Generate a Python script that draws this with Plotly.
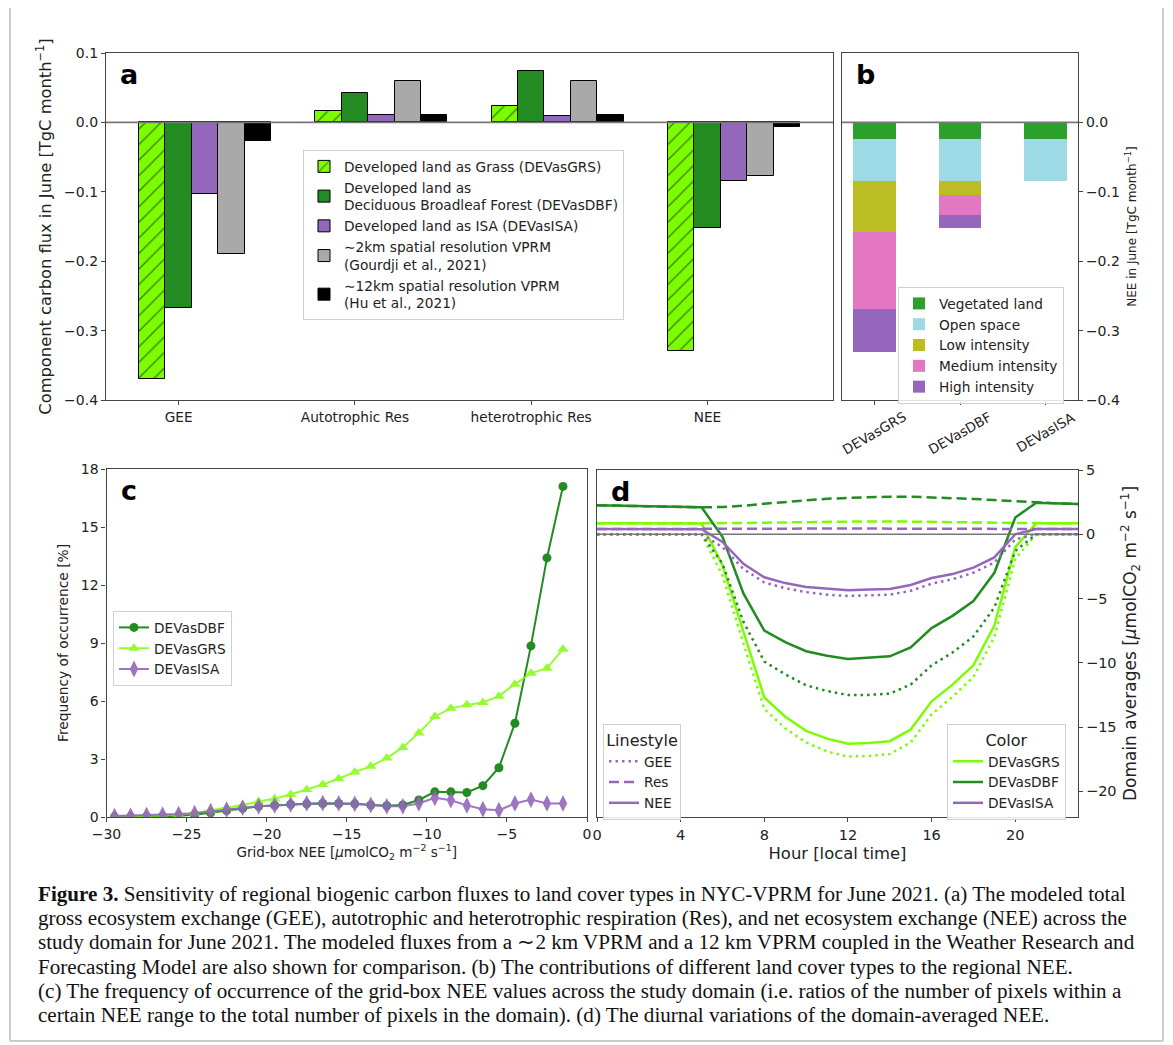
import plotly.graph_objects as go

W, H = 1173, 1045
FONT = "DejaVu Sans"

# ---------------- data ----------------
# panel a
cats_a = ["GEE", "Autotrophic Res", "heterotrophic Res", "NEE"]
a_grs = [-0.370, 0.017, 0.023, -0.330]
a_dbf = [-0.268, 0.043, 0.074, -0.152]
a_isa = [-0.103, 0.010, 0.009, -0.085]
a_gourdji = [-0.190, 0.059, 0.059, -0.077]
a_hu = [-0.027, 0.010, 0.010, -0.006]
a_names = ["Developed land as Grass (DEVasGRS)",
           "Developed land as<br>Deciduous Broadleaf Forest (DEVasDBF)",
           "Developed land as ISA (DEVasISA)",
           "∼2km spatial resolution VPRM<br>(Gourdji et al., 2021)",
           "∼12km spatial resolution VPRM<br>(Hu et al., 2021)"]
a_yticks = [-0.4, -0.3, -0.2, -0.1, 0.0, 0.1]

# panel b
cats_b = ["DEVasGRS", "DEVasDBF", "DEVasISA"]
b_veg = [-0.0236, -0.0236, -0.0236]
b_open = [-0.0610, -0.0610, -0.0610]
b_low = [-0.0740, -0.0200, 0.0]
b_med = [-0.1106, -0.0290, 0.0]
b_high = [-0.0615, -0.0180, 0.0]
b_names = ["Vegetated land", "Open space", "Low intensity", "Medium intensity", "High intensity"]
b_yticks = [-0.4, -0.3, -0.2, -0.1, 0.0]

# panel c
c_nee = [-29.5, -28.5, -27.5, -26.5, -25.5, -24.5, -23.5, -22.5, -21.5, -20.5,
         -19.5, -18.5, -17.5, -16.5, -15.5, -14.5, -13.5, -12.5, -11.5, -10.5,
         -9.5, -8.5, -7.5, -6.5, -5.5, -4.5, -3.5, -2.5, -1.5]
c_dbf = [0.0, 0.01, 0.02, 0.03, 0.06, 0.12, 0.22, 0.33, 0.45, 0.55,
         0.60, 0.65, 0.68, 0.70, 0.70, 0.68, 0.62, 0.58, 0.62, 0.88,
         1.30, 1.30, 1.27, 1.62, 2.55, 4.85, 8.85, 13.4, 17.1]
c_grs = [0.02, 0.03, 0.05, 0.08, 0.12, 0.20, 0.35, 0.47, 0.62, 0.80,
         0.95, 1.16, 1.42, 1.68, 1.98, 2.33, 2.62, 3.05, 3.60, 4.35,
         5.20, 5.62, 5.80, 5.92, 6.25, 6.87, 7.43, 7.70, 8.68]
c_isa = [0.05, 0.07, 0.10, 0.12, 0.15, 0.20, 0.30, 0.38, 0.48, 0.55,
         0.60, 0.65, 0.70, 0.72, 0.70, 0.68, 0.62, 0.55, 0.55, 0.70,
         0.99, 0.87, 0.60, 0.40, 0.35, 0.70, 0.90, 0.70, 0.70]
c_xticks = [-30, -25, -20, -15, -10, -5, 0]
c_yticks = [0, 3, 6, 9, 12, 15, 18]

# panel d
hours = [0, 1, 2, 3, 4, 5, 6, 7, 8, 9, 10, 11, 12, 13, 14, 15, 16, 17, 18, 19, 20, 21, 22, 23]
grs_nee = [0.85, 0.85, 0.85, 0.84, 0.84, 0.84, -2.4, -7.6, -12.7, -14.2, -15.3, -15.9,
           -16.3, -16.25, -16.1, -15.2, -13.0, -11.7, -10.2, -7.1, -1.0, 0.85, 0.85, 0.85]
grs_res = [0.85, 0.85, 0.84, 0.84, 0.83, 0.83, 0.84, 0.87, 0.90, 0.93, 0.96, 0.98,
           0.99, 1.00, 1.00, 0.99, 0.97, 0.95, 0.93, 0.90, 0.88, 0.86, 0.86, 0.85]
grs_gee = [0, 0, 0, 0, 0, 0, -3.2, -8.5, -13.6, -15.1, -16.2, -16.9,
           -17.3, -17.25, -17.1, -16.2, -14.0, -12.65, -11.1, -8.0, -1.9, 0, 0, 0]
dbf_nee = [2.25, 2.22, 2.19, 2.15, 2.12, 2.10, -0.2, -4.6, -7.5, -8.4, -9.1, -9.45,
           -9.7, -9.6, -9.5, -8.8, -7.3, -6.35, -5.2, -3.0, 1.3, 2.45, 2.40, 2.35]
dbf_res = [2.25, 2.22, 2.19, 2.15, 2.12, 2.10, 2.12, 2.22, 2.38, 2.52, 2.65, 2.76,
           2.83, 2.88, 2.92, 2.92, 2.88, 2.82, 2.75, 2.66, 2.56, 2.45, 2.40, 2.35]
dbf_gee = [0, 0, 0, 0, 0, 0, -2.3, -6.8, -9.9, -10.9, -11.75, -12.2,
           -12.5, -12.5, -12.4, -11.7, -10.2, -9.2, -7.95, -5.7, -1.3, 0, 0, 0]
isa_nee = [0.40, 0.40, 0.40, 0.39, 0.39, 0.39, -0.6, -2.3, -3.35, -3.8, -4.1, -4.25,
           -4.35, -4.3, -4.25, -3.95, -3.4, -3.1, -2.6, -1.8, 0.0, 0.40, 0.40, 0.40]
isa_res = [0.40, 0.40, 0.40, 0.39, 0.39, 0.39, 0.39, 0.40, 0.42, 0.43, 0.44, 0.45,
           0.45, 0.46, 0.46, 0.46, 0.45, 0.44, 0.43, 0.42, 0.41, 0.41, 0.40, 0.40]
isa_gee = [0, 0, 0, 0, 0, 0, -1.0, -2.7, -3.75, -4.2, -4.5, -4.7,
           -4.8, -4.75, -4.7, -4.4, -3.85, -3.5, -3.0, -2.2, -0.4, 0, 0, 0]
d_xticks = [0, 4, 8, 12, 16, 20]
d_yticks = [-20, -15, -10, -5, 0, 5]

caption_lines = [
    "<b>Figure 3.</b> Sensitivity of regional biogenic carbon fluxes to land cover types in NYC-VPRM for June 2021. (a) The modeled total",
    "gross ecosystem exchange (GEE), autotrophic and heterotrophic respiration (Res), and net ecosystem exchange (NEE) across the",
    "study domain for June 2021. The modeled fluxes from a ∼2 km VPRM and a 12 km VPRM coupled in the Weather Research and",
    "Forecasting Model are also shown for comparison. (b) The contributions of different land cover types to the regional NEE.",
    "(c) The frequency of occurrence of the grid-box NEE values across the study domain (i.e. ratios of the number of pixels within a",
    "certain NEE range to the total number of pixels in the domain). (d) The diurnal variations of the domain-averaged NEE.",
]

# ---------------- styles ----------------
C_GRS = "#7cfc00"
C_DBF = "#228b22"
C_ISA = "#9467bd"
C_GOU = "#a9a9a9"
C_HU = "#000000"
B_COLORS = ["#2ca02c", "#9edae5", "#bcbd22", "#e377c2", "#9467bd"]
AX = "#444444"
DOT = "2.5px,4px"
DASH = "10px,5px"
OFF = 8  # page margin of the browser body


def fx(px):
    return (px - OFF) / W


def fy(py):
    return 1 - (py - OFF) / H


def lab(v, fmt):
    return fmt.format(v).replace("-", "−")


fig = go.Figure()

# ---- panel a ----
a_series = [a_grs, a_dbf, a_isa, a_gourdji, a_hu]
a_colors = [C_GRS, C_DBF, C_ISA, C_GOU, C_HU]
bw = 0.15
for k, (vals, col, name) in enumerate(zip(a_series, a_colors, a_names)):
    xs = [i + (k - 1) * bw for i in range(len(cats_a))]
    kw = {}
    if k == 0:
        kw = dict(pattern=dict(shape="/", fgcolor="black", bgcolor=C_GRS, size=11,
                               solidity=0.12, fillmode="overlay"))
    fig.add_trace(go.Bar(x=xs, y=vals, width=bw, name=name, xaxis="x", yaxis="y",
                         marker=dict(color=col, line=dict(color="black", width=1), **kw),
                         legend="legend"))

# ---- panel b ----
for vals, col, name in zip([b_veg, b_open, b_low, b_med, b_high], B_COLORS, b_names):
    fig.add_trace(go.Bar(x=cats_b, y=vals, width=0.5, name=name, xaxis="x2", yaxis="y2",
                         marker=dict(color=col, line=dict(width=0)), legend="legend2"))

# ---- panel c ----
fig.add_trace(go.Scatter(x=c_nee, y=c_dbf, mode="lines+markers", name="DEVasDBF",
                         line=dict(color=C_DBF, width=2), marker=dict(symbol="circle", size=9),
                         xaxis="x3", yaxis="y3", legend="legend3"))
fig.add_trace(go.Scatter(x=c_nee, y=c_grs, mode="lines+markers", name="DEVasGRS",
                         line=dict(color=C_GRS, width=2), marker=dict(symbol="triangle-up", size=10),
                         opacity=0.8, xaxis="x3", yaxis="y3", legend="legend3"))
fig.add_trace(go.Scatter(x=c_nee, y=c_isa, mode="lines+markers", name="DEVasISA",
                         line=dict(color=C_ISA, width=2), marker=dict(symbol="diamond-tall", size=12),
                         opacity=0.9, xaxis="x3", yaxis="y3", legend="legend3"))

# ---- panel d ----
d_sets = [(C_GRS, grs_gee, grs_res, grs_nee), (C_DBF, dbf_gee, dbf_res, dbf_nee),
          (C_ISA, isa_gee, isa_res, isa_nee)]
for col, gee, res, nee in d_sets:
    for vals, dash in [(gee, DOT), (res, DASH), (nee, "solid")]:
        fig.add_trace(go.Scatter(x=hours, y=vals, mode="lines", showlegend=False,
                                 line=dict(color=col, width=2.5, dash=dash),
                                 xaxis="x4", yaxis="y4"))
for name, dash in [("GEE", DOT), ("Res", DASH), ("NEE", "solid")]:
    fig.add_trace(go.Scatter(x=[None], y=[None], mode="lines", name=name,
                             line=dict(color=C_ISA, width=2.5, dash=dash),
                             xaxis="x4", yaxis="y4", legend="legend4"))
for name, col in [("DEVasGRS", C_GRS), ("DEVasDBF", C_DBF), ("DEVasISA", C_ISA)]:
    fig.add_trace(go.Scatter(x=[None], y=[None], mode="lines", name=name,
                             line=dict(color=col, width=2.5),
                             xaxis="x4", yaxis="y4", legend="legend5"))

# ---------------- axes ----------------
common = dict(showline=True, mirror=True, linecolor=AX, linewidth=1.2, ticks="outside",
              ticklen=4, tickcolor=AX, showgrid=False, zeroline=False, automargin=False)

fig.update_layout(
    xaxis=dict(domain=[fx(106), fx(833)], range=[-0.4125, 3.7125],
               tickvals=list(range(len(cats_a))), ticktext=cats_a,
               tickfont=dict(size=13.7), anchor="y", **common),
    yaxis=dict(domain=[fy(400), fy(53)], range=[-0.4, 0.1], tickvals=a_yticks,
               ticktext=[lab(v, "{:.1f}") for v in a_yticks], tickfont=dict(size=14),
               title=dict(text="Component carbon flux in June [TgC month<sup>−1</sup>]",
                          font=dict(size=16.3), standoff=8),
               anchor="x", **common),
    xaxis2=dict(domain=[fx(842), fx(1078)], range=[-0.375, 2.375], type="category",
                showticklabels=False, anchor="y2", **common),
    yaxis2=dict(domain=[fy(400), fy(53)], range=[-0.4, 0.1], tickvals=b_yticks,
                ticktext=[lab(v, "{:.1f}") for v in b_yticks], tickfont=dict(size=14),
                side="right", anchor="x2",
                title=dict(text="NEE in June [TgC month<sup>−1</sup>]", font=dict(size=12),
                           standoff=8),
                **common),
    xaxis3=dict(domain=[fx(106.5), fx(587)], range=[-30, 0], tickvals=c_xticks,
                ticktext=[lab(v, "{:d}") for v in c_xticks], tickfont=dict(size=14),
                title=dict(text="Grid-box NEE [<i>μ</i>molCO<sub>2</sub> m<sup>−2</sup> s<sup>−1</sup>]",
                           font=dict(size=13.5), standoff=6),
                anchor="y3", **common),
    yaxis3=dict(domain=[fy(817), fy(469)], range=[0, 18], tickvals=c_yticks,
                ticktext=[str(v) for v in c_yticks], tickfont=dict(size=14),
                title=dict(text="Frequency of occurrence [%]", font=dict(size=13.8), standoff=8),
                anchor="x3", **common),
    xaxis4=dict(domain=[fx(597), fx(1078)], range=[0, 23], tickvals=d_xticks,
                ticktext=[str(v) for v in d_xticks], tickfont=dict(size=14.5),
                title=dict(text="Hour [local time]", font=dict(size=16.4), standoff=6),
                anchor="y4", **common),
    yaxis4=dict(domain=[fy(817), fy(470)], range=[-22, 5], tickvals=d_yticks,
                ticktext=[lab(v, "{:d}") for v in d_yticks], tickfont=dict(size=14.5),
                side="right", anchor="x4",
                title=dict(text="Domain averages [<i>μ</i>molCO<sub>2</sub> m<sup>−2</sup> s<sup>−1</sup>]",
                           font=dict(size=17), standoff=8),
                **common),
)

# zero lines
for xr, yr in [("x domain", "y"), ("x2 domain", "y2"), ("x4 domain", "y4")]:
    fig.add_shape(type="line", xref=xr, yref=yr, x0=0, x1=1, y0=0, y1=0,
                  line=dict(color="#777777", width=1.6), layer="above")

# panel b category labels (rotated)
for cat in cats_b:
    fig.add_annotation(x=cat, y=0, xref="x2", yref="y2 domain", yshift=-6,
                       text=cat, textangle=-30, showarrow=False, xanchor="center",
                       yanchor="top", font=dict(size=13.5, color="#222"))

# panel letters
for letter, ax in [("a", "x"), ("b", "x2"), ("c", "x3"), ("d", "x4")]:
    yax = "y" if ax == "x" else "y" + ax[1:]
    fig.add_annotation(x=0, y=1, xref=f"{ax} domain", yref=f"{yax} domain", xshift=12, yshift=-4,
                       text=f"<b>{letter}</b>", showarrow=False, xanchor="left", yanchor="top",
                       font=dict(size=27, color="black"))

# caption
for i, line in enumerate(caption_lines):
    fig.add_annotation(x=fx(36), y=fy(880 + i * 24.2), xref="paper", yref="paper",
                       text=line, showarrow=False, xanchor="left", yanchor="top", align="left",
                       font=dict(family="Liberation Serif", size=21.1, color="#111"))

# outer frame
frame = dict(color="#cccccc", width=2)
fig.add_shape(type="line", xref="paper", yref="paper", x0=fx(10), x1=fx(10), y0=fy(1041), y1=1.0, line=frame)
fig.add_shape(type="line", xref="paper", yref="paper", x0=fx(1163), x1=fx(1163), y0=fy(1041), y1=1.0, line=frame)
fig.add_shape(type="line", xref="paper", yref="paper", x0=fx(10), x1=fx(1163), y0=fy(1041), y1=fy(1041), line=frame)

legend_common = dict(bgcolor="rgba(255,255,255,0.85)", bordercolor="#d0d0d0", borderwidth=1,
                     xanchor="left", yanchor="top", font=dict(size=13.7, color="#222"))
fig.update_layout(
    width=W, height=H, margin=dict(l=0, r=0, t=0, b=0, autoexpand=False),
    paper_bgcolor="white", plot_bgcolor="white",
    font=dict(family=FONT, color="#222"),
    barmode="relative", bargap=0,
    legend=dict(x=fx(303), y=fy(150), tracegroupgap=0, **legend_common),
    legend2=dict(x=fx(898), y=fy(287), **legend_common),
    legend3=dict(x=fx(113), y=fy(611), **legend_common),
    legend4=dict(x=fx(603), y=fy(724), title=dict(text="Linestyle", side="top center"), **legend_common),
    legend5=dict(x=fx(947), y=fy(724), title=dict(text="Color", side="top center"), **legend_common),
)

fig.write_html("out.html")
